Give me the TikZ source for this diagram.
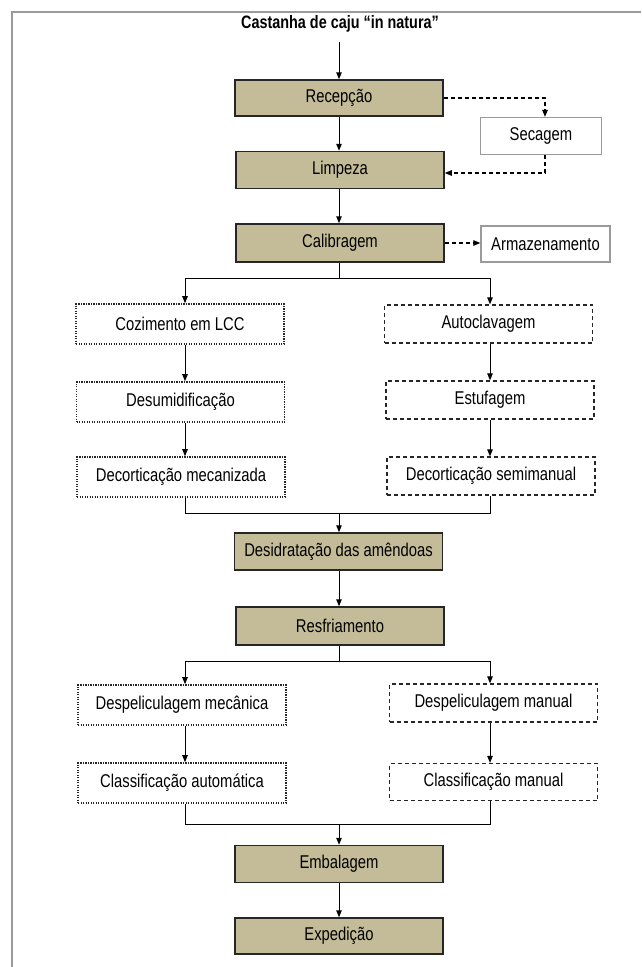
\documentclass[tikz,border=0pt]{standalone}
\usepackage{fontspec}
\setmainfont[FakeStretch=0.8]{Liberation Sans}
\usetikzlibrary{arrows.meta}
\definecolor{tan}{HTML}{C4BC98}
\definecolor{frame}{HTML}{9A9A9A}
\begin{document}
\begin{tikzpicture}[x=1pt,y=-1pt,
  every node/.style={inner sep=0pt,font=\fontsize{18.5}{21}\selectfont},
  mainbox/.style={draw=black!85,line width=1.5pt,fill=tan,minimum width=208pt,minimum height=36pt},
  sidebox/.style={draw=frame,line width=1.3pt,fill=white},
  dotbox/.style={draw=black!85,line width=1.6pt,dash pattern=on 1.1pt off 1.4pt,minimum width=208pt,minimum height=39pt},
  dashbox/.style={draw=black!85,line width=1.3pt,dash pattern=on 4pt off 3pt,minimum width=208pt,minimum height=38pt},
  arr/.style={-{Triangle[length=7pt,width=5.5pt]},line width=1pt},
  ln/.style={line width=1pt},
  darr/.style={-{Triangle[length=7pt,width=5.5pt]},line width=1.1pt,dash pattern=on 4pt off 3pt}]
\useasboundingbox (0,0) rectangle (641,967);
\draw[frame,line width=1.5pt] (12,967) -- (12,12) -- (641,12);

\node[font=\bfseries\fontsize{18}{21}\selectfont] (title) at (340,24) {Castanha de caju “in natura”};
\node[mainbox] (rec) at (339,98) {Recepção};
\node[sidebox,minimum width=121pt,minimum height=37pt] (sec) at (541,136) {Secagem};
\node[mainbox,minimum height=37pt] (lim) at (340,170) {Limpeza};
\node[mainbox,minimum height=38pt] (cal) at (340,243) {Calibragem};
\node[sidebox,minimum width=129pt,minimum height=36pt] (arm) at (545.5,244) {Armazenamento};

\node[dotbox,minimum height=40pt] (coz) at (180,324) {Cozimento em LCC};
\node[dashbox] (aut) at (488.5,324) {Autoclavagem};
\node[dotbox,minimum height=40pt] (des) at (180.5,402) {Desumidificação};
\node[dashbox] (est) at (490,400) {Estufagem};
\node[dotbox,minimum height=40pt] (dmec) at (181,477) {Decorticação mecanizada};
\node[dashbox] (dsemi) at (491,476) {Decorticação semimanual};

\node[mainbox,minimum height=37pt] (desid) at (338.5,551.5) {Desidratação das amêndoas};
\node[mainbox,minimum height=38pt] (resf) at (340,626) {Resfriamento};

\node[dotbox,minimum height=40pt] (dpmec) at (182,705) {Despeliculagem mecânica};
\node[dashbox] (dpman) at (493.5,703) {Despeliculagem manual};
\node[dotbox,minimum height=40pt] (cauto) at (182,783) {Classificação automática};
\node[dashbox,minimum height=37pt] (cman) at (493.5,782) {Classificação manual};

\node[mainbox,minimum height=37pt] (emb) at (339,864) {Embalagem};
\node[mainbox] (exp) at (339,936) {Expedição};

\coordinate (t0) at (339,42);
\coordinate (s1) at (339,278);
\coordinate (j1) at (339,513);
\coordinate (s2) at (339,661);
\coordinate (j2) at (339,824);

% main line
\draw[arr] (t0) -- (rec.north -| t0);
\draw[arr] (rec.south -| t0) -- (lim.north -| t0);
\draw[arr] (lim.south -| t0) -- (cal.north -| t0);

% side dashed
\draw[darr] (rec.east) -- (545,98) -- (545,0 |- sec.north);
\draw[darr] (545,0 |- sec.south) -- (545,173) -- (lim.east |- 0,173);
\draw[darr] (cal.east) -- (arm.west |- cal.east);

% split 1
\draw[ln] (cal.south -| t0) -- (s1);
\draw[ln] (185,278) -- (490,278);
\draw[arr] (185,278) -- (185,0 |- coz.north);
\draw[arr] (490,278) -- (490,0 |- aut.north);
\draw[arr] (185,0 |- coz.south) -- (185,0 |- des.north);
\draw[arr] (185,0 |- des.south) -- (185,0 |- dmec.north);
\draw[arr] (490,0 |- aut.south) -- (490,0 |- est.north);
\draw[arr] (490,0 |- est.south) -- (490,0 |- dsemi.north);
\draw[ln] (185,0 |- dmec.south) -- (185,513) -- (490,513) -- (490,0 |- dsemi.south);
\draw[arr] (j1) -- (desid.north -| t0);
\draw[arr] (desid.south -| t0) -- (resf.north -| t0);

% split 2
\draw[ln] (resf.south -| t0) -- (s2);
\draw[ln] (185,661) -- (490,661);
\draw[arr] (185,661) -- (185,0 |- dpmec.north);
\draw[arr] (490,661) -- (490,0 |- dpman.north);
\draw[arr] (185,0 |- dpmec.south) -- (185,0 |- cauto.north);
\draw[arr] (490,0 |- dpman.south) -- (490,0 |- cman.north);
\draw[ln] (185,0 |- cauto.south) -- (185,824) -- (490,824) -- (490,0 |- cman.south);
\draw[arr] (j2) -- (emb.north -| t0);
\draw[arr] (emb.south -| t0) -- (exp.north -| t0);
\end{tikzpicture}
\end{document}
